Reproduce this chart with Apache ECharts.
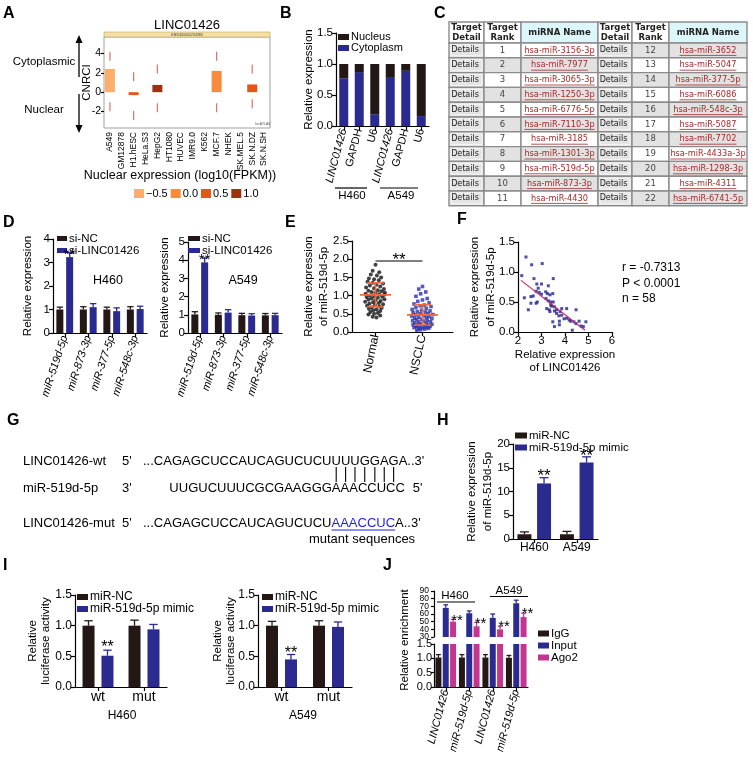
<!DOCTYPE html>
<html><head><meta charset="utf-8">
<script src="https://cdn.jsdelivr.net/npm/echarts@6/dist/echarts.min.js"></script>
<style>html,body{margin:0;padding:0;background:#fff}#c{width:753px;height:759px}</style>
</head><body><div id="c"></div>
<script>
// ================= DATA =================
// Panel A
const aCells = ['A549','GM12878','H1.hESC','HeLa.S3','HepG2','HT1080','HUVEC','IMR9.0','K562','MCF.7','NHEK','SK.MEL.5','SK.N.DZ','SK.N.SH'];
const aCNRCI = [2.4,null,-0.3,null,0.75,null,null,null,null,2.2,null,null,0.8,null];
const aNucLevel = ['−0.5',null,'0.5',null,'1.0',null,null,null,null,'0.0',null,null,'0.5',null];
const aLevels = ['−0.5','0.0','0.5','1.0'];
const aMarkTop = [3.7,null,1.6,null,2.4,null,null,null,null,3.7,null,null,2.4,null];
const aMarkBot = [-1.5,null,-2.4,null,-1.6,null,null,null,null,-1.6,null,null,-1.2,null];
// Panel B
const bCats = ['LINC01426','GAPDH','U6','LINC01426','GAPDH','U6'];
const bCyto = [0.77,0.87,0.19,0.79,0.89,0.16];
const bNuc  = [0.23,0.13,0.81,0.21,0.11,0.84];
// Panel C
const tHeaders = ['Target\nDetail','Target\nRank','miRNA Name','Target\nDetail','Target\nRank','miRNA Name'];
const tRanksL = [1,2,3,4,5,6,7,8,9,10,11];
const tNamesL = ['hsa-miR-3156-3p','hsa-miR-7977','hsa-miR-3065-3p','hsa-miR-1250-3p','hsa-miR-6776-5p','hsa-miR-7110-3p','hsa-miR-3185','hsa-miR-1301-3p','hsa-miR-519d-5p','hsa-miR-873-3p','hsa-miR-4430'];
const tRanksR = [12,13,14,15,16,17,18,19,20,21,22];
const tNamesR = ['hsa-miR-3652','hsa-miR-5047','hsa-miR-377-5p','hsa-miR-6086','hsa-miR-548c-3p','hsa-miR-5087','hsa-miR-7702','hsa-miR-4433a-3p','hsa-miR-1298-3p','hsa-miR-4311','hsa-miR-6741-5p'];
// Panel D
const dCats = ['miR-519d-5p','miR-873-3p','miR-377-5p','miR-548c-3p'];
const dH460NC = [1.0,1.0,1.0,1.0],   dH460NCErr = [0.1,0.12,0.1,0.12];
const dH460Si = [3.23,1.1,0.93,1.02], dH460SiErr = [0.2,0.15,0.14,0.12];
const dA549NC = [1.02,1.0,0.98,0.97], dA549NCErr = [0.15,0.1,0.1,0.1];
const dA549Si = [3.88,1.12,0.96,0.98], dA549SiErr = [0.25,0.16,0.1,0.1];
const dStars = [1,0,0,0];
// Panel E
const eCats = ['Normal','NSCLC'];
const eNormal = [1.85,1.68,1.64,1.58,1.55,1.50,1.47,1.45,1.42,1.38,1.35,1.33,1.30,1.28,1.25,1.22,1.20,1.18,1.15,1.13,1.12,1.10,1.08,1.07,1.05,1.04,1.02,1.00,0.99,0.97,0.96,0.94,0.92,0.90,0.89,0.87,0.85,0.83,0.82,0.80,0.78,0.76,0.75,0.72,0.70,0.68,0.66,0.64,0.62,0.60,0.58,0.55,0.52,0.50,0.48,0.45,0.42,0.40];
const eNSCLC = [1.25,1.18,1.10,1.05,0.98,0.92,0.88,0.84,0.80,0.77,0.74,0.72,0.70,0.67,0.65,0.62,0.60,0.58,0.56,0.55,0.53,0.51,0.50,0.48,0.47,0.45,0.44,0.42,0.41,0.40,0.38,0.37,0.35,0.34,0.32,0.31,0.30,0.28,0.27,0.25,0.24,0.22,0.21,0.20,0.19,0.18,0.17,0.16,0.15,0.14,0.13,0.12,0.11,0.10,0.09,0.08,0.06,0.05];
const eMean = [1.02,0.47];
const eSDLow = [0.69,0.19];
const eSDHigh = [1.35,0.75];
const eSigY = 1.95;
// Panel F
const fX = [2.34,2.16,2.58,3.03,2.68,3.50,2.27,2.55,2.65,2.44,2.55,2.77,2.82,2.80,2.86,3.00,2.77,2.90,3.00,3.18,3.29,3.25,3.36,3.19,3.29,3.39,3.48,3.22,3.33,3.39,3.43,3.50,3.55,3.36,3.55,3.64,3.64,3.79,3.74,3.86,3.48,3.55,3.76,3.76,3.86,3.96,4.07,4.07,4.18,4.24,4.31,4.38,4.47,4.47,4.60,4.68,4.89,4.78];
const fY = [1.25,0.94,1.12,1.14,0.89,0.89,0.57,0.59,0.60,0.37,0.48,0.48,0.50,0.80,0.73,0.80,0.68,0.66,0.63,0.67,0.77,0.64,0.62,0.56,0.52,0.50,0.64,0.39,0.37,0.45,0.43,0.50,0.42,0.34,0.35,0.37,0.31,0.34,0.27,0.28,0.17,0.09,0.18,0.12,0.39,0.22,0.23,0.39,0.20,0.18,0.03,0.17,0.37,0.14,0.18,0.10,0.17,0.09];
const fFitX = [2.13,4.85];
const fFitY = [0.86,0.03];
const fStats = ['r = -0.7313','P < 0.0001','n = 58'];
// Panel G
const gWtSeq = 'CAGAGCUCCAUCAGUCUCUUUUGGAGA';
const gMirSeq = 'UUGUCUUUCGCGAAGGGAAACCUCC';
const gMutSeq = 'CAGAGCUCCAUCAGUCUCUAAACCUCA';
const gPairStartWt = 19, gPairLen = 7, gPairStartMir = 17;
// Panel H
const hCats = ['H460','A549'];
const hNC = [1.0,1.0], hNCErr = [0.5,0.6];
const hMimic = [11.7,16.1], hMimicErr = [1.2,1.2];
const hStars = [1,1];
// Panel I
const iCats = ['wt','mut'];
const iH460NC = [1.0,1.0], iH460NCErr = [0.08,0.09];
const iH460Mi = [0.51,0.94], iH460MiErr = [0.09,0.08];
const iA549NC = [1.0,1.0], iA549NCErr = [0.07,0.08];
const iA549Mi = [0.45,0.98], iA549MiErr = [0.08,0.08];
const iStars = [1,0];
// Panel J
const jCats = ['LINC01426','miR-519d-5p','LINC01426','miR-519d-5p'];
const jIgG = [1.03,1.03,1.03,1.02], jIgGErr = [0.1,0.1,0.1,0.08];
const jInput = [68,61,55,74], jInputErr = [4,3,5,4];
const jAgo2 = [50,44,40,56], jAgo2Err = [3,5,4,5];
const jStars = [1,1,1,1];
const jUpperTicks = [30,40,50,60,70,80,90];

// ================= LAYOUT / STYLE =================
const FONT = 'Liberation Sans';
const FQ = '"Liberation Sans", Arial, sans-serif';
const BLACK = '#231815', BLUE = '#2B2B8F', MAG = '#C2368E', SDC = '#EF6A3E';
const aColors = ['#FDAE6B','#F98B3C','#E4561A','#9E3210'];
// E jitter (layout only)
const eNormalDx = [0.00,-0.06,0.08,-0.10,0.03,0.12,-0.14,-0.03,0.07,-0.17,-0.06,0.16,0.02,-0.12,0.10,-0.20,-0.03,0.18,0.05,-0.15,0.13,-0.08,0.20,0.00,-0.21,0.08,0.19,-0.12,-0.03,0.14,-0.19,0.05,-0.08,0.19,-0.15,0.00,0.11,-0.22,-0.05,0.07,-0.13,0.16,-0.01,-0.18,0.08,-0.08,0.13,-0.14,0.02,-0.05,0.10,-0.11,0.05,-0.03,-0.15,0.10,-0.06,0.02];
const eNSCLCDx = [0.00,-0.08,0.07,-0.04,-0.14,0.10,0.00,-0.10,0.14,-0.18,0.04,-0.05,0.18,-0.14,0.08,-0.22,-0.02,0.16,-0.11,0.06,-0.20,0.12,-0.05,0.22,-0.15,0.03,-0.23,0.14,-0.08,0.08,-0.17,0.20,-0.02,-0.12,0.10,-0.21,0.02,0.17,-0.08,-0.16,0.08,-0.03,0.20,-0.20,0.12,-0.10,0.04,-0.14,0.16,-0.05,0.08,-0.18,0.00,0.13,-0.09,0.05,-0.04,-0.12];
const tColW = [35,37,77,34,37,78];
const T_HEAD = 21, T_ROW = 14.8;

const _ctx = document.createElement('canvas').getContext('2d');
function tw(t, font){ _ctx.font = font; return _ctx.measureText(t).width; }

const grids = [
  {left:104, top:37, width:166, height:91, show:true, borderColor:'#a0a0a0', borderWidth:1},   //0 A
  {left:336, top:33, width:93, height:93},   //1 B
  {left:449, top:22, width:298, height:T_HEAD+11*T_ROW}, //2 C
  {left:53, top:239, width:94, height:94},   //3 D1
  {left:188, top:242, width:94, height:91},  //4 D2
  {left:352, top:241, width:101, height:91}, //5 E
  {left:518, top:242, width:94, height:90},  //6 F
  {left:513, top:444, width:85, height:95},  //7 H
  {left:75, top:595, width:92, height:92},   //8 I1
  {left:258, top:595, width:94, height:92},  //9 I2
  {left:434, top:591, width:94, height:46},  //10 J up
  {left:434, top:644, width:94, height:43}   //11 J low
];

const AX_LINE = {show:true, lineStyle:{color:'#000', width:1.2}};
const AX_TICK = {show:true, length:4, lineStyle:{color:'#000', width:1.2}};
function lbl(o){ return Object.assign({color:'#000', fontFamily:FONT, fontSize:11.5, margin:3}, o||{}); }
function vAxis(gi, min, max, interval, o){
  return Object.assign({type:'value', gridIndex:gi, min, max, interval, axisLine:AX_LINE, axisTick:AX_TICK, splitLine:{show:false}, axisLabel:lbl()}, o||{});
}
function cAxis(gi, data, o){
  return Object.assign({type:'category', gridIndex:gi, data, axisLine:AX_LINE, axisTick:Object.assign({}, AX_TICK, {alignWithLabel:true}), splitLine:{show:false}, axisLabel:lbl({interval:0})}, o||{});
}
function yName(name, gap, lh){
  return {name, nameLocation:'middle', nameGap:gap, nameMoveOverlap:false, nameTextStyle:{fontFamily:FONT, fontSize:11.5, color:'#000', lineHeight:lh||14}};
}
const f1 = v => v.toFixed(1);
const italicRich = {i:{fontStyle:'italic', fontFamily:FONT, fontSize:11, color:'#000'}};

const xAxes = [
  cAxis(0, aCells, {axisLine:{show:false}, axisTick:{show:false}, axisLabel:lbl({interval:0, rotate:90, fontSize:8.5, margin:4})}),
  cAxis(1, bCats, {axisLabel:lbl({interval:0, rotate:75, fontSize:11, formatter:v=> v==='LINC01426' ? '{i|'+v+'}' : v, rich:italicRich})}),
  {type:'value', gridIndex:2, min:0, max:tColW.reduce((a,b)=>a+b,0), show:false},
  cAxis(3, dCats, {axisLabel:lbl({interval:0, rotate:72, fontSize:11, fontStyle:'italic'})}),
  cAxis(4, dCats, {axisLabel:lbl({interval:0, rotate:72, fontSize:11, fontStyle:'italic'})}),
  Object.assign(vAxis(5, 0, 101/47, null), {axisTick:Object.assign({}, AX_TICK, {customValues:[0.5,1.5]}), axisLabel:lbl({customValues:[0.5,1.5], rotate:78, fontSize:12, formatter:v=> v<1 ? eCats[0] : eCats[1]})}),
  Object.assign(vAxis(6, 2, 6, 1), yName('Relative expression\nof LINC01426', 16, 13)),
  cAxis(7, hCats, {axisLabel:lbl({interval:0, fontSize:12})}),
  cAxis(8, iCats, {axisLabel:lbl({interval:0, fontSize:14})}),
  cAxis(9, iCats, {axisLabel:lbl({interval:0, fontSize:14})}),
  cAxis(10, jCats, {show:false}),
  cAxis(11, jCats, {axisLabel:lbl({interval:0, rotate:75, fontSize:11, fontStyle:'italic'})})
];
const yAxes = [
  Object.assign(vAxis(0, -3.7, 5.7, null), {axisLine:{show:false}, axisTick:Object.assign({}, AX_TICK, {length:3, customValues:[-2,0,2,4]}), axisLabel:lbl({customValues:[-2,0,2,4], fontSize:10.5})}, yName('CNRCI', 10)),
  Object.assign(vAxis(1, 0, 1.5, 0.5, {axisLabel:lbl({formatter:f1})}), yName('Relative expression', 20)),
  {type:'value', gridIndex:2, min:0, max:T_HEAD+11*T_ROW, inverse:true, show:false},
  Object.assign(vAxis(3, 0, 4, 1), yName('Relative expression', 18)),
  Object.assign(vAxis(4, 0, 5, 1), yName('Relative expression', 16)),
  Object.assign(vAxis(5, 0, 2.5, 0.5, {axisLabel:lbl({formatter:f1})}), yName('Relative expression\nof miR-519d-5p', 21, 15)),
  Object.assign(vAxis(6, 0, 1.5, 0.5, {axisLabel:lbl({formatter:f1})}), yName('Relative expression\nof miR-519d-5p', 19, 16)),
  Object.assign(vAxis(7, 0, 20, 5), yName('Relative expression\nof miR-519d-5p', 17, 16)),
  Object.assign(vAxis(8, 0, 1.5, 0.5, {axisLabel:lbl({formatter:f1, fontSize:12})}), yName('Relative\nluciferase activity', 23, 13)),
  Object.assign(vAxis(9, 0, 1.5, 0.5, {axisLabel:lbl({formatter:f1, fontSize:12})}), yName('Relative\nluciferase activity', 21, 13)),
  vAxis(10, 30, 90, 10, {axisLabel:{show:false}, axisTick:Object.assign({}, AX_TICK, {length:3})}),
  vAxis(11, 0, 1.5, 0.5, {axisLabel:lbl({formatter:f1, fontSize:11, margin:2}), axisTick:Object.assign({}, AX_TICK, {length:3})})
];

// ================= SERIES =================
const series = [];
function bar(name, gi, data, color, bw, gap, extra){
  return Object.assign({type:'bar', name, xAxisIndex:gi, yAxisIndex:gi, data, barWidth:bw, barGap:gap, clip:true, itemStyle:{color}}, extra||{});
}
function errSeries(o){
  return {type:'custom', xAxisIndex:o.gi, yAxisIndex:o.gi, z:5, clip:false,
    data:o.vals.map((v,i)=>[i, v, o.errs[i], o.stars ? o.stars[i] : 0]),
    renderItem:function(params, api){
      const i=api.value(0), v=api.value(1), e=api.value(2), s=api.value(3);
      const gap=o.bw*o.gap, tot=o.n*o.bw+(o.n-1)*gap;
      const off=-tot/2+o.bw/2+o.idx*(o.bw+gap);
      const a=api.coord([i,v]), b=api.coord([i,v+e]);
      const x=a[0]+off, cap=o.bw*(o.cap||0.38);
      const ch=[{type:'line', shape:{x1:x,y1:a[1],x2:x,y2:b[1]}, style:{stroke:o.color, lineWidth:1.3}},
                {type:'line', shape:{x1:x-cap,y1:b[1],x2:x+cap,y2:b[1]}, style:{stroke:o.color, lineWidth:1.3}}];
      if(s) ch.push({type:'text', style:{text:'**', x:x+(o.sdx||0), y:b[1]+(o.sdy||0), font:(o.sfs||15)+'px '+FQ, fill:'#000', align:'center', verticalAlign:'middle', textAlign:'center', textVerticalAlign:'middle'}});
      return {type:'group', children:ch};
    }};
}
// A
aLevels.forEach((L, li) => series.push(bar(L, 0, aCNRCI.map((v,i)=> aNucLevel[i]===L ? v : '-'), aColors[li], 10, '-100%')));
[aMarkTop, aMarkBot].forEach(arr => series.push({type:'scatter', xAxisIndex:0, yAxisIndex:0, symbol:'rect', symbolSize:[1.2,9], itemStyle:{color:'#D55A48', opacity:0.85}, data:arr.map(v=> v==null ? '-' : v)}));
// B
series.push(bar('Cytoplasm', 1, bCyto, BLUE, 9, '30%', {stack:'b'}));
series.push(bar('Nucleus', 1, bNuc, BLACK, 9, '30%', {stack:'b'}));
// C table
function renderCell(params, api){
  const c = api.value(0), r = api.value(1);
  const colX = [0]; tColW.forEach(w=>colX.push(colX[colX.length-1]+w));
  const y0 = r===0 ? 0 : T_HEAD+(r-1)*T_ROW, y1 = r===0 ? T_HEAD : y0+T_ROW;
  const p0 = api.coord([colX[c], y0]), p1 = api.coord([colX[c+1], y1]);
  const X=p0[0], Y=Math.min(p0[1],p1[1]), W=p1[0]-p0[0], H=Math.abs(p1[1]-p0[1]);
  const cx=X+W/2, cy=Y+H/2, side = c<3?0:1, k=c%3;
  let fill='#fff', text='', font='8px "DejaVu Sans"', color='#333', ul=false, tx=cx;
  if(r===0){ fill = k===2 ? '#DDF6FA' : '#FFFFFF'; text=tHeaders[c]; font='bold 8.5px "DejaVu Sans"'; color='#222'; }
  else {
    const rank = side ? tRanksR[r-1] : tRanksL[r-1];
    if(k===0){ fill='#E4E4E4'; text='Details'; font='8px "DejaVu Sans"'; color='#222'; tx=cx-1.5; }
    else { fill = rank%2===0 ? '#E2E2E2' : '#FFFFFF';
      if(k===1){ text=String(rank); color='#444'; font='8.5px "DejaVu Sans"'; }
      else { text = side ? tNamesR[r-1] : tNamesL[r-1]; color='#A52A2A'; ul=true; font='8.2px "DejaVu Sans"'; } }
  }
  const ch=[{type:'rect', shape:{x:X,y:Y,width:W,height:H}, style:{fill, stroke:'#8C8C8C', lineWidth:1.4}}];
  if(k===0 && r>0) ch.push({type:'rect', shape:{x:X+2,y:Y+2,width:W-4,height:H-4}, style:{fill:'none', stroke:'#F6F6F6', lineWidth:1}});
  ch.push({type:'text', style:{text, x:tx, y:cy, font, fill:color, align:'center', verticalAlign:'middle', textAlign:'center', textVerticalAlign:'middle', lineHeight:10}});
  if(ul){ const w=tw(text, font); ch.push({type:'line', shape:{x1:cx-w/2,y1:cy+5,x2:cx+w/2,y2:cy+5}, style:{stroke:color, lineWidth:0.8}}); }
  return {type:'group', children:ch};
}
const tCells=[]; for(let r=0;r<12;r++) for(let c=0;c<6;c++) tCells.push([c,r]);
series.push({type:'custom', xAxisIndex:2, yAxisIndex:2, clip:false, data:tCells, renderItem:renderCell});
// D
[[3,dH460NC,dH460NCErr,dH460Si,dH460SiErr],[4,dA549NC,dA549NCErr,dA549Si,dA549SiErr]].forEach(([gi,nc,nce,si,sie])=>{
  series.push(bar('si-NC', gi, nc, BLACK, 7, '40%'));
  series.push(bar('si-LINC01426', gi, si, BLUE, 7, '40%'));
  series.push(errSeries({gi, vals:nc, errs:nce, n:2, idx:0, bw:7, gap:0.4, color:BLACK, cap:0.45}));
  series.push(errSeries({gi, vals:si, errs:sie, n:2, idx:1, bw:7, gap:0.4, color:BLUE, cap:0.45, stars:dStars, sfs:15, sdy:2}));
});
// E
series.push({type:'scatter', name:eCats[0], xAxisIndex:5, yAxisIndex:5, symbol:'circle', symbolSize:4, itemStyle:{color:'#111'}, data:eNormal.map((v,i)=>[0.5+eNormalDx[i], v])});
series.push({type:'scatter', name:eCats[1], xAxisIndex:5, yAxisIndex:5, symbol:'rect', symbolSize:3.6, itemStyle:{color:'#2B30A8'}, data:eNSCLC.map((v,i)=>[1.5+eNSCLCDx[i], v])});
series.push({type:'custom', xAxisIndex:5, yAxisIndex:5, z:6, clip:false, data:eMean.map((m,i)=>[i+0.5, m, eSDLow[i], eSDHigh[i]]),
  renderItem:(p, api)=>{
    const x=api.value(0), m=api.coord([x, api.value(1)]), lo=api.coord([x, api.value(2)]), hi=api.coord([x, api.value(3)]);
    const hw=api.size([0.33,0])[0], cw=api.size([0.18,0])[0], st={stroke:SDC, lineWidth:1.6};
    return {type:'group', children:[
      {type:'line', shape:{x1:m[0]-hw,y1:m[1],x2:m[0]+hw,y2:m[1]}, style:st},
      {type:'line', shape:{x1:m[0],y1:lo[1],x2:m[0],y2:hi[1]}, style:st},
      {type:'line', shape:{x1:m[0]-cw,y1:lo[1],x2:m[0]+cw,y2:lo[1]}, style:st},
      {type:'line', shape:{x1:m[0]-cw,y1:hi[1],x2:m[0]+cw,y2:hi[1]}, style:st}]};
  }});
series.push({type:'custom', xAxisIndex:5, yAxisIndex:5, z:6, clip:false, data:[[0.5,1.5,eSigY]],
  renderItem:(p, api)=>{
    const a=api.coord([api.value(0), api.value(2)]), b=api.coord([api.value(1), api.value(2)]);
    return {type:'group', children:[
      {type:'line', shape:{x1:a[0],y1:a[1],x2:b[0],y2:b[1]}, style:{stroke:'#000', lineWidth:1.2}},
      {type:'text', style:{text:'**', x:(a[0]+b[0])/2, y:a[1]-1, font:'17px '+FQ, fill:'#000', align:'center', verticalAlign:'middle', textAlign:'center', textVerticalAlign:'middle'}}]};
  }});
// F
series.push({type:'scatter', xAxisIndex:6, yAxisIndex:6, symbol:'rect', symbolSize:3, itemStyle:{color:'#22228C'}, data:fX.map((x,i)=>[x, fY[i]])});
series.push({type:'line', xAxisIndex:6, yAxisIndex:6, symbol:'none', lineStyle:{color:'#C8246E', width:1.1}, data:fFitX.map((x,i)=>[x, fFitY[i]])});
// H
series.push(bar('miR-NC', 7, hNC, BLACK, 14, '40%'));
series.push(bar('miR-519d-5p mimic', 7, hMimic, BLUE, 14, '40%'));
series.push(errSeries({gi:7, vals:hNC, errs:hNCErr, n:2, idx:0, bw:14, gap:0.4, color:BLACK, cap:0.32}));
series.push(errSeries({gi:7, vals:hMimic, errs:hMimicErr, n:2, idx:1, bw:14, gap:0.4, color:BLUE, cap:0.32, stars:hStars, sfs:17, sdy:-1}));
// I
[[8,iH460NC,iH460NCErr,iH460Mi,iH460MiErr,-3],[9,iA549NC,iA549NCErr,iA549Mi,iA549MiErr,-1]].forEach(([gi,nc,nce,mi,mie,sdy])=>{
  series.push(bar('miR-NC', gi, nc, BLACK, 12, '58%'));
  series.push(bar('miR-519d-5p mimic', gi, mi, BLUE, 12, '58%'));
  series.push(errSeries({gi, vals:nc, errs:nce, n:2, idx:0, bw:12, gap:0.58, color:BLACK, cap:0.35}));
  series.push(errSeries({gi, vals:mi, errs:mie, n:2, idx:1, bw:12, gap:0.58, color:BLUE, cap:0.35, stars:iStars, sfs:16, sdy:sdy}));
});
// J
[10,11].forEach(gi=>{
  series.push(bar('IgG', gi, jIgG, BLACK, 6, '22%'));
  series.push(bar('Input', gi, jInput, BLUE, 6, '22%'));
  series.push(bar('Ago2', gi, jAgo2, MAG, 6, '22%'));
});
series.push(errSeries({gi:11, vals:jIgG, errs:jIgGErr, n:3, idx:0, bw:6, gap:0.22, color:BLACK, cap:0.4}));
series.push(errSeries({gi:10, vals:jInput, errs:jInputErr, n:3, idx:1, bw:6, gap:0.22, color:BLUE, cap:0.4}));
series.push(errSeries({gi:10, vals:jAgo2, errs:jAgo2Err, n:3, idx:2, bw:6, gap:0.22, color:MAG, cap:0.4, stars:jStars, sfs:15, sdx:4, sdy:1}));
// J upper broken-axis tick labels (squeezed, drawn through the axis scale)
series.push({type:'custom', xAxisIndex:10, yAxisIndex:10, z:6, clip:false, data:jUpperTicks.map(v=>[0, v]),
  renderItem:(params, api)=>{
    const p = api.coord([0, api.value(1)]);
    return {type:'text', style:{text:String(api.value(1)), x:params.coordSys.x-5, y:p[1], font:'8.5px '+FQ, fill:'#000', align:'right', verticalAlign:'middle', textAlign:'right', textVerticalAlign:'middle'}};
  }});

// ================= LEGENDS =================
function legend(names, left, top, o){
  const base = {orient:'vertical', left, top, data:names, itemWidth:11, itemHeight:6, itemGap:0, padding:0, selectedMode:false, icon:'rect',
    textStyle:{fontFamily:FONT, fontSize:11.5, color:'#000', lineHeight:7, padding:[0,0,0,-3]}};
  if(o && o.textStyle){ Object.assign(base.textStyle, o.textStyle); delete o.textStyle; }
  return Object.assign(base, o||{});
}
const legends = [
  legend(aLevels, 134, 188, {orient:'horizontal', itemWidth:10, itemHeight:9, itemGap:3, textStyle:{fontSize:11, lineHeight:10}}),
  legend(['Nucleus','Cytoplasm'], 338, 31.5, {textStyle:{fontSize:11}}),
  legend(['si-NC','si-LINC01426'], 57, 232.5, {itemWidth:10, itemHeight:5}),
  legend(['si-NC','si-LINC01426'], 188, 232.5, {itemWidth:12, itemHeight:5}),
  legend(['miR-NC','miR-519d-5p mimic'], 515, 429.5, {itemWidth:12, textStyle:{lineHeight:8}}),
  legend(['miR-NC','miR-519d-5p mimic'], 77, 591, {itemWidth:11, textStyle:{fontSize:12, lineHeight:10}}),
  legend(['miR-NC','miR-519d-5p mimic'], 262, 591, {itemWidth:11, textStyle:{fontSize:12, lineHeight:10}}),
  legend(['IgG','Input','Ago2'], 538, 627.5, {itemWidth:11, textStyle:{fontSize:11.5, lineHeight:8.5}})
];

// ================= GRAPHICS (text & diagram) =================
const G = [];
function T(text, x, y, fs, o){
  o = o||{};
  const el = {type:'text', silent:true, z:10, style:{text, x, y, font:(o.w?o.w+' ':'')+fs+'px '+(o.ff||FQ), fill:o.c||'#000',
    align:o.a||'center', verticalAlign:'middle', textAlign:o.a||'center', textVerticalAlign:'middle'}};
  if(o.rot){ el.x = x; el.y = y; el.style.x = 0; el.style.y = 0; el.rotation = o.rot; }
  G.push(el);
}
function Ln(x1,y1,x2,y2,c,w){ G.push({type:'line', silent:true, z:10, shape:{x1,y1,x2,y2}, style:{stroke:c||'#000', lineWidth:w||1.2}}); }
// panel letters
[['A',3,14],['B',280,14],['C',434,14],['D',3,222.5],['E',285,222.5],['F',457,220],['G',7,421],['H',437,421],['I',3,566],['J',383,566]].forEach(([t,x,y])=>T(t,x,y,16,{w:'bold',a:'left'}));
// A decorations
T('LINC01426', 187, 25, 13);
G.push({type:'rect', silent:true, z:9, shape:{x:104,y:32,width:166,height:5}, style:{fill:'#F6E0A4', stroke:'#C2A465', lineWidth:0.6}});
T('ENSG00000234380', 187, 34.6, 3.5, {c:'#444'});
Ln(79,77,79,42,'#000',1.3); G.push({type:'polygon', silent:true, shape:{points:[[75.5,43],[82.5,43],[79,35]]}, style:{fill:'#000'}});
Ln(79,94,79,126,'#000',1.3); G.push({type:'polygon', silent:true, shape:{points:[[75.5,125],[82.5,125],[79,133]]}, style:{fill:'#000'}});
T('Cytoplasmic', 44, 62, 11.5);
T('Nuclear', 44, 110, 11.5);
T('Nuclear expression (log10(FPKM))', 180, 176, 12.5);
T('lncATLAS', 263, 124.5, 3.5, {c:'#555'});
// B groups
Ln(335,188,367,188); T('H460', 352, 195.5, 11.5);
Ln(380,188,418,188); T('A549', 401, 195.5, 11.5);
// D labels
T('H460', 108, 281, 12.5); T('A549', 243, 281, 12.5);
// F stats
fStats.forEach((s,i)=>T(s, 622, 268+i*15.5, 12, {a:'left'}));
// G sequences
(function(){
  const gf = '13px '+FQ;
  const gx = 143, yW = 461, yM = 488, yU = 523;
  T('LINC01426-wt', 23, yW, 13, {a:'left'}); T("5'", 122, yW, 13, {a:'left'});
  T('...'+gWtSeq+"..3'", gx, yW, 13, {a:'left'});
  const centers = [];
  for(let k=0;k<gPairLen;k++){ const i=gPairStartWt+k; centers.push(gx + tw('...'+gWtSeq.slice(0,i), gf) + tw(gWtSeq[i], gf)/2); }
  centers.forEach(cx=>Ln(cx, 467, cx, 482, '#000', 1.1));
  const mx = centers[0] - tw(gMirSeq.slice(0,gPairStartMir), gf) - tw(gMirSeq[gPairStartMir], gf)/2;
  T('miR-519d-5p', 23, yM, 13, {a:'left'}); T("3'", 122, yM, 13, {a:'left'});
  T(gMirSeq, mx, yM, 13, {a:'left'});
  T("5'", mx + tw(gMirSeq, gf) + 8, yM, 13, {a:'left'});
  T('LINC01426-mut', 23, yU, 13, {a:'left'}); T("5'", 122, yU, 13, {a:'left'});
  const p1 = '...'+gMutSeq.slice(0,gPairStartWt), p2 = gMutSeq.slice(gPairStartWt, gPairStartWt+gPairLen), p3 = gMutSeq.slice(gPairStartWt+gPairLen)+"..3'";
  const w1 = tw(p1, gf), w2 = tw(p2, gf);
  T(p1, gx, yU, 13, {a:'left'});
  T(p2, gx+w1, yU, 13, {a:'left', c:'#1E1EE6'});
  Ln(gx+w1, yU+7, gx+w1+w2, yU+7, '#1E1EE6', 1);
  T(p3, gx+w1+w2, yU, 13, {a:'left'});
  T('mutant sequences', 362, 539, 13);
})();
// I labels
T('H460', 122, 716, 12); T('A549', 303, 716, 12);
// J groups and broken-axis name
T('H460', 455, 596, 11.5); Ln(437,602,475,602);
T('A549', 509, 590.5, 11.5); Ln(490,596.5,528,596.5);
T('Relative enrichment', 405, 640, 11.5, {rot:Math.PI/2});

const option = {
  animation:false, backgroundColor:'#fff', textStyle:{fontFamily:FONT},
  grid:grids, xAxis:xAxes, yAxis:yAxes, legend:legends, series, graphic:{elements:G}
};
const chart = echarts.init(document.getElementById('c'), null, {renderer:'canvas', width:753, height:759});
chart.setOption(option);
</script></body></html>
